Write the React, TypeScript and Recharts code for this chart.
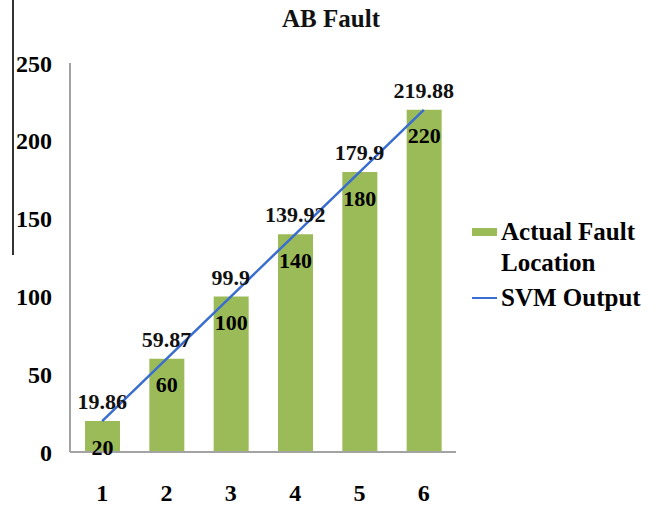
import { ComposedChart, Bar, Line, XAxis, YAxis, Legend, LabelList } from 'recharts';

const categories = ['1', '2', '3', '4', '5', '6'];
const actualLocation = [20, 60, 100, 140, 180, 220];
const svmOutput = [19.86, 59.87, 99.9, 139.92, 179.9, 219.88];
const yTicks = [0, 50, 100, 150, 200, 250];

const FONT = '"Liberation Serif", "Times New Roman", serif';
const BAR_COLOR = '#9BBB59';
const LINE_COLOR = '#3a6dd0';
const AXIS_COLOR = '#a3a3a3';

const data = categories.map((c, i) => ({
  name: c,
  actual: actualLocation[i],
  svm: svmOutput[i],
}));

function LegendBox({ payload }: any) {
  const items = payload || [];
  return (
    <div style={{ fontFamily: FONT, fontSize: 25, fontWeight: 'bold', color: '#000' }}>
      {items.map((item: any) => (
        <div key={item.value} style={{ display: 'flex', alignItems: 'flex-start', marginBottom: 4 }}>
          <div style={{ width: 25, height: 31, position: 'relative', flexShrink: 0 }}>
            {item.type === 'line' ? (
              <div style={{ position: 'absolute', left: 0, top: 15, width: 25, height: 2, background: item.color }} />
            ) : (
              <div style={{ position: 'absolute', left: 0, top: 12, width: 25, height: 8, background: item.color }} />
            )}
          </div>
          <div style={{ width: 150, lineHeight: '31px', paddingLeft: 4 }}>{item.value}</div>
        </div>
      ))}
    </div>
  );
}

export default function App() {
  return (
    <div style={{ position: 'absolute', left: 0, top: 0, width: 664, height: 505, background: '#fff' }}>
      <div style={{ position: 'absolute', left: 12, top: 0, width: 2, height: 255, background: '#333' }} />
      <div
        style={{
          position: 'absolute',
          left: 231,
          top: 5,
          width: 200,
          textAlign: 'center',
          fontFamily: FONT,
          fontSize: 25,
          fontWeight: 'bold',
          color: '#111',
        }}
      >
        AB Fault
      </div>
      <ComposedChart width={664} height={505} data={data} margin={{ top: 63, right: 18, bottom: 23, left: 0 }}>
        <XAxis
          dataKey="name"
          axisLine={{ stroke: AXIS_COLOR, strokeWidth: 2 }}
          tickLine={false}
          tickMargin={26}
          tick={{ fill: '#000', fontSize: 24, fontWeight: 'bold', fontFamily: FONT }}
        />
        <YAxis
          width={70}
          domain={[0, 250]}
          ticks={yTicks}
          axisLine={{ stroke: AXIS_COLOR, strokeWidth: 2 }}
          tickLine={false}
          tickMargin={12}
          tick={{ fill: '#000', fontSize: 24, fontWeight: 'bold', fontFamily: FONT }}
        />
        <Legend
          layout="vertical"
          align="right"
          verticalAlign="middle"
          wrapperStyle={{ left: 472, top: 216, width: 190 }}
          content={<LegendBox />}
        />
        <Bar dataKey="actual" name="Actual Fault Location" fill={BAR_COLOR} barSize={35} isAnimationActive={false}>
          <LabelList
            dataKey="actual"
            position="insideTop"
            offset={18}
            style={{ fill: '#000', fontSize: 22, fontWeight: 'bold', fontFamily: FONT }}
          />
        </Bar>
        <Line
          dataKey="svm"
          name="SVM Output"
          type="linear"
          stroke={LINE_COLOR}
          strokeWidth={2.5}
          dot={false}
          legendType="line"
          isAnimationActive={false}
        >
          <LabelList
            dataKey="svm"
            position="top"
            offset={12}
            style={{ fill: '#111', fontSize: 22, fontWeight: 'bold', fontFamily: FONT }}
          />
        </Line>
      </ComposedChart>
    </div>
  );
}
